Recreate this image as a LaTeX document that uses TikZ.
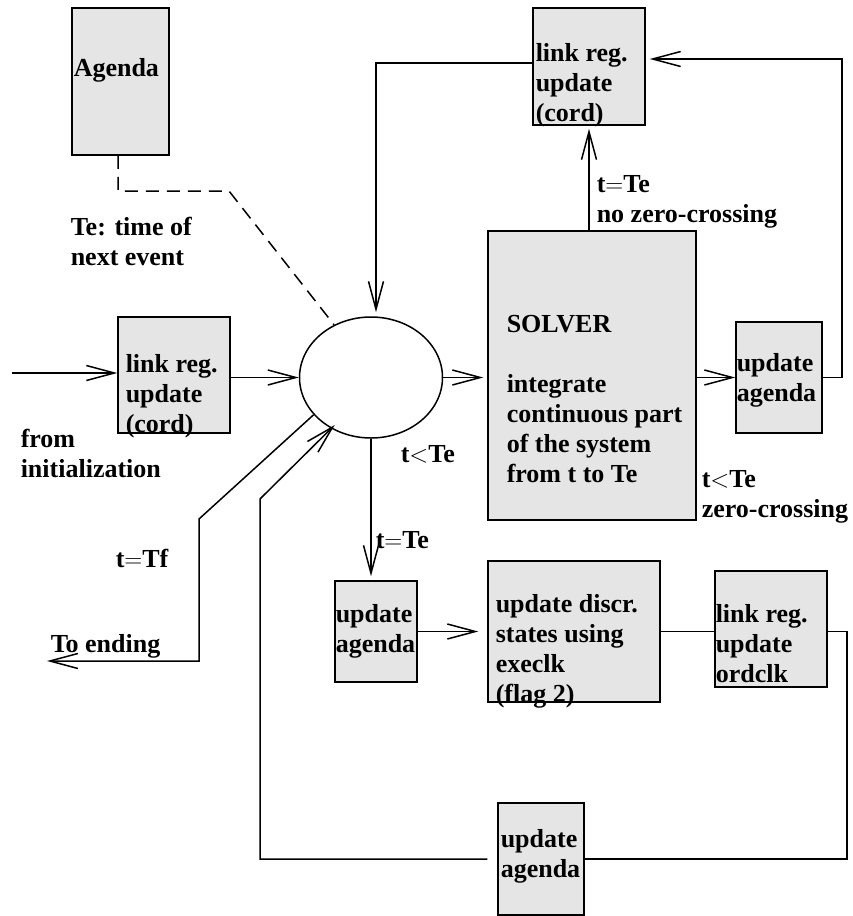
\documentclass[tikz,border=0pt]{standalone}
\usepackage{fontspec}
\setmainfont{Liberation Serif}
\usetikzlibrary{arrows.meta}
\usetikzlibrary{shapes}

\definecolor{boxgray}{gray}{0.9}

\begin{document}
\begin{tikzpicture}[x=1pt,y=-1pt,line width=1.5pt]
   \tikzset{Box/.style={draw,fill=boxgray,inner sep=0pt}}
   \tikzset{Txt/.style={anchor=base west,align=left,inner sep=0pt,font=\bfseries\fontsize{26}{30}\selectfont}}
   \tikzset{Flow/.style={-{Straight Barb[length=28pt,width=15pt]}}}
   \useasboundingbox (0,0) rectangle (852,916);
   % boxes
   \node[Box,minimum width=97pt,minimum height=147pt] (agenda) at (120.5,81.5) {};
   \node[Box,minimum width=112pt,minimum height=117pt] (linktop) at (589,66.5) {};
   \node[Box,minimum width=112pt,minimum height=116pt] (linkin) at (174,375) {};
   \node[Box,minimum width=208pt,minimum height=289pt] (solver) at (592,375.5) {};
   \node[Box,minimum width=86pt,minimum height=111pt] (agendaR) at (779,377.5) {};
   \node[Box,minimum width=82pt,minimum height=101pt] (agendaM) at (376,631.5) {};
   \node[Box,minimum width=172pt,minimum height=141pt] (discr) at (574,631.5) {};
   \node[Box,minimum width=112pt,minimum height=116pt] (ordclk) at (771,629) {};
   \node[Box,minimum width=86pt,minimum height=112pt] (agendaB) at (541,859) {};
   \node[draw,ellipse,minimum width=143pt,minimum height=121pt,inner sep=0pt] (ell) at (371,377.5) {};
   % texts in boxes (base = last line)
   \node[Txt] (agendaTxt) at (73,76) {Agenda};
   \node[Txt] (linktopTxt) at (535,121) {link reg.\\update\\(cord)};
   \node[Txt] (linkinTxt) at (125,432) {link reg.\\update\\(cord)};
   \node[Txt] (solverTxt) at (506,482) {SOLVER\\[30pt]integrate\\continuous part\\of the system\\from t to Te};
   \node[Txt] (agendaRTxt) at (736,401) {update\\agenda};
   \node[Txt] (agendaMTxt) at (335,652) {update\\agenda};
   \node[Txt] (discrTxt) at (495,702) {update discr.\\states using\\execlk\\(flag 2)};
   \node[Txt] (ordclkTxt) at (715,682) {link reg.\\update\\ordclk};
   \node[Txt] (agendaBTxt) at (500,877) {update\\agenda};
   % free labels
   \node[Txt] (teTxt) at (70,265) {Te: time of\\next event};
   \node[Txt] (noZero) at (596,222) {t$=$Te\\no zero-crossing};
   \node[Txt] (fromInit) at (20,477) {from\\initialization};
   \node[Txt] (ltTxt) at (400,462) {t$<$Te};
   \node[Txt] (eqTxt) at (375,548) {t$=$Te};
   \node[Txt] (zeroTxt) at (701,517) {t$<$Te\\zero-crossing};
   \node[Txt] (tfTxt) at (115,567) {t$=$Tf};
   \node[Txt] (endTxt) at (50,652) {To ending};
   % helper points
   \coordinate (inP) at (12,373);
   \coordinate (dashA) at (118,191);
   \coordinate (dashB) at (229,191);
   \coordinate (loopR) at (842,59);
   \coordinate (topL) at (376,63);
   \coordinate (tfA) at (199,519);
   \coordinate (tfB) at (199,661);
   \coordinate (endP) at (47,661);
   \coordinate (loopB) at (847,859);
   \coordinate (backA) at (260,859);
   \coordinate (backB) at (260,499);
   % connectors
   \draw[Flow] (inP) -- (inP -| linkin.west);
   \draw[Flow] (ell.west -| linkin.east) -- (ell.west);
   \draw[Flow,shorten >=4pt] (ell.east) -- (ell.east -| solver.west);
   \draw[Flow] (agendaR.west -| solver.east) -- (agendaR.west);
   \draw[Flow,shorten >=4pt] (agendaR.east) -| (loopR) -- (loopR -| linktop.east);
   \draw[Flow,shorten >=3pt] (solver.north -| linktop) -- (linktop.south);
   \draw[Flow,shorten >=4pt] (linktop.west |- topL) -- (topL) -- (topL |- ell.north);
   \draw[dash pattern=on 13pt off 8pt] (agenda.south -| dashA) -- (dashA) -- (dashB) -- (ell.125);
   \draw[Flow,shorten >=4pt] (ell.south) -- (ell.south |- agendaM.north);
   \draw[Flow] (ell.213) -- (tfA) -- (tfB) -- (endP);
   \draw[Flow,shorten >=9pt] (agendaM.east) -- (agendaM.east -| discr.west);
   \draw (discr.east) -- (discr.east -| ordclk.west);
   \draw (ordclk.east |- discr.east) -| (loopB) -- (agendaB.east);
   \draw[Flow,shorten <=10pt,shorten >=-5pt] (agendaB.west) -- (backA) -- (backB) -- (ell.232);
\end{tikzpicture}
\end{document}
